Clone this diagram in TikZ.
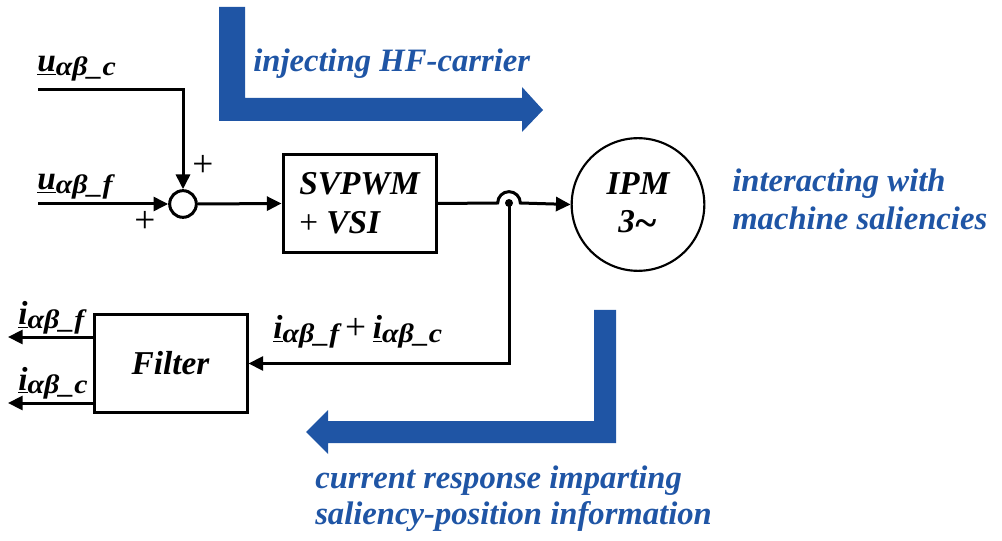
\documentclass[tikz,border=0pt]{standalone}
\usepackage{fontspec}
\setmainfont{Liberation Serif}
\newfontfamily\subfont[FakeStretch=1.12]{Liberation Serif}
\usetikzlibrary{arrows.meta}
\definecolor{hfblue}{RGB}{31,85,165}
\newcommand\bsub[1]{\raisebox{-0.25em}{\subfont\fontsize{20}{20}\selectfont\bfseries\itshape #1}}
\newcommand\ulet[1]{\underline{\fontsize{25}{25}\selectfont\bfseries\itshape #1}}
\begin{document}
\begin{tikzpicture}[x=0.75pt,y=-0.75pt,
  conn/.style={line width=2.25pt},
  arr/.style={conn,-{Triangle[length=11pt,width=10.5pt]}},
  blockbox/.style={draw,line width=2.25pt,minimum width=114.75pt,minimum height=74pt,inner sep=0pt,
    font=\fontsize{25}{29}\selectfont\bfseries\itshape,align=left},
  blue/.style={text=hfblue,font=\fontsize{24.5}{28}\selectfont\bfseries\itshape,inner sep=0pt},
  lbl/.style={inner sep=0pt,anchor=base west},
  plus/.style={inner sep=0pt,font=\fontsize{28}{28}\selectfont}
]
\useasboundingbox (0,0) rectangle (1002,541);
% blue arrows
\fill[hfblue] (219,7) -- (245,7) -- (245,98) -- (522,98) -- (522,87) -- (543,110) -- (522,132)
  -- (522,121) -- (219,121) -- cycle;
\fill[hfblue] (616,310) -- (594,310) -- (594,421) -- (328,421) -- (328,410) -- (306,432)
  -- (328,454) -- (328,443) -- (616,443) -- cycle;
% blocks
\node[draw,circle,line width=2.25pt,minimum size=20pt,inner sep=0pt] (sum) at (183,204) {};
\node[blockbox] (svp) at (359.5,203.5) {SVPWM\\{\normalfont\fontsize{25}{29}\selectfont+} VSI};
\node[draw,circle,line width=1.6pt,minimum size=99.5pt,inner sep=0pt,align=center,
  font=\fontsize{25}{29}\selectfont\bfseries\itshape] (ipm) at (638,204.5)
  {IPM\\[0pt]3\raisebox{-0.12em}{\fontsize{30}{30}\selectfont\bfseries\textasciitilde}};
\node[blockbox,minimum height=72.75pt] (filt) at (170.5,363.5) {Filter};
% coordinates
\coordinate (ucs) at (38,90);
\coordinate (ufs) at (38,204);
\coordinate (hop) at (509,203);
\coordinate (o1) at (8,337);
\coordinate (o2) at (8,403);
% connectors
\draw[arr] (ucs) -| (sum.north);
\draw[arr] (ufs) -- (sum.west);
\draw[arr] (sum.east) -- (svp.west);
\draw[arr] (svp.east) -- ([xshift=-8.5pt]hop) arc[start angle=180,end angle=0,radius=8.5pt] -- (ipm.west);
\fill (hop) circle[radius=3pt];
\draw[arr] (hop) |- (filt.east);
\draw[arr] (filt.west |- o1) -- (o1);
\draw[arr] (filt.west |- o2) -- (o2);
% plus signs
\node[plus] (p1) at (203,166) {+};
\node[plus] (p2) at (145,222) {+};
% labels
\node[lbl] (luc) at (37,72) {\ulet{u}\bsub{αβ\_c}};
\node[lbl] (luf) at (37,190) {\ulet{u}\bsub{αβ\_f}};
\node[lbl] (lif) at (18,325) {\ulet{i}\bsub{αβ\_f}};
\node[lbl] (lic) at (18,390) {\ulet{i}\bsub{αβ\_c}};
\node[lbl] (lsum) at (273,339) {\ulet{i}\bsub{αβ\_f}\hspace{0.45em}\raisebox{-0.06em}{\fontsize{28}{28}\selectfont +}\hspace{0.5em}\ulet{i}\bsub{αβ\_c}};
% blue texts
\node[blue,anchor=base west] (t1) at (253,72) {injecting HF-carrier};
\node[blue,anchor=base west,align=left] (t2) at (732,230) {interacting with\\[1pt]machine saliencies};
\node[blue,anchor=base west,align=left] (t3) at (315,524) {current response imparting\\[-1pt]saliency-position information};
\end{tikzpicture}
\end{document}
